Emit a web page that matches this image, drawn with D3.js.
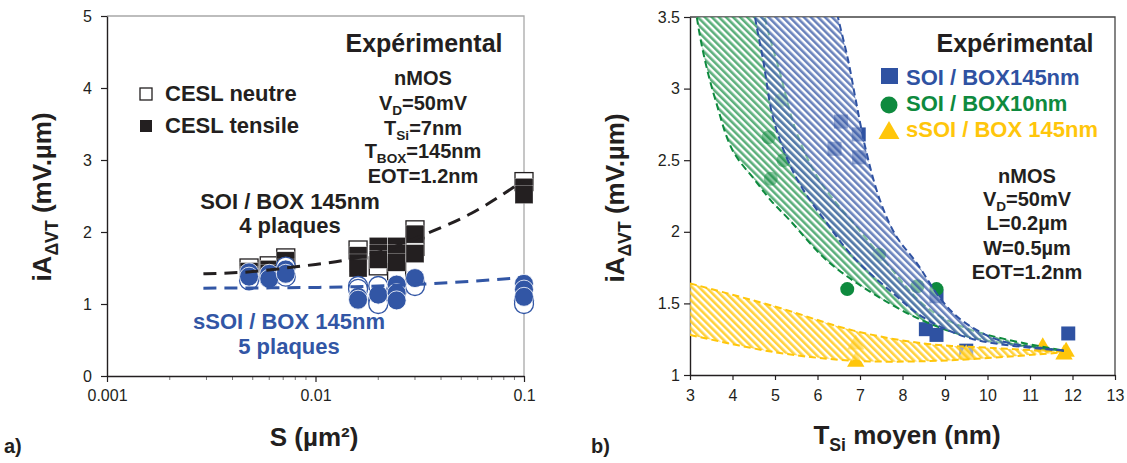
<!DOCTYPE html>
<html><head><meta charset="utf-8">
<script src="https://cdn.jsdelivr.net/npm/d3@7"></script>
<style>
body{margin:0;background:#fff;}
svg{display:block;font-family:"Liberation Sans",Arial,Helvetica,sans-serif;}
</style>
</head><body><svg id="c" width="1127" height="463"></svg>
<script>
// ================= Panel a data =================
const aXTicks = [0.001, 0.01, 0.1];
const aXTickLabels = ["0.001", "0.01", "0.1"];
const aYTicks = [0, 1, 2, 3, 4, 5];
// SOI / BOX 145nm squares [S (µm²), iA (mV.µm)]
const aSoiNeutre = [[0.0048,1.50],[0.006,1.53],[0.0072,1.64],[0.016,1.75],[0.02,1.53],[0.0245,1.46],[0.03,2.03],[0.03,1.80],[0.1,2.70]];
const aSoiTensile = [[0.0048,1.45],[0.0048,1.40],[0.006,1.48],[0.006,1.42],[0.0072,1.60],[0.0072,1.50],
  [0.016,1.67],[0.016,1.57],[0.016,1.50],[0.02,1.80],[0.02,1.70],[0.02,1.62],[0.0245,1.80],[0.0245,1.70],[0.0245,1.58],
  [0.03,1.97],[0.03,1.70],[0.1,2.62],[0.1,2.52]];
// sSOI / BOX 145nm circles
const aSsoiNeutre = [[0.0048,1.33],[0.006,1.36],[0.0072,1.52],[0.0072,1.38],[0.016,1.25],[0.016,1.21],[0.02,1.25],[0.02,1.05],[0.02,1.00],
  [0.0245,1.22],[0.0245,1.18],[0.03,1.29],[0.03,1.25],[0.1,1.05],[0.1,1.00]];
const aSsoiTensile = [[0.0048,1.44],[0.0048,1.38],[0.006,1.42],[0.006,1.35],[0.0072,1.48],[0.0072,1.42],[0.016,1.10],[0.016,1.06],
  [0.02,1.13],[0.0245,1.27],[0.0245,1.15],[0.0245,1.05],[0.03,1.36],[0.1,1.28],[0.1,1.20],[0.1,1.10]];
// dashed trend lines
const aFitSoiS = [0.0029,0.005,0.0072,0.01,0.0146,0.02,0.035,0.056,0.1];
const aFitSoiV = [1.42,1.45,1.50,1.55,1.62,1.72,1.99,2.26,2.72];
const aFitSsoiS = [0.0029,0.01,0.0154,0.035,0.1];
const aFitSsoiV = [1.22,1.23,1.24,1.28,1.37];

// ================= Panel b data =================
const bXTicks = [3,4,5,6,7,8,9,10,11,12,13];
const bYTicks = [1,1.5,2,2.5,3,3.5];
const bSoi145 = [[6.55,2.77],[6.4,2.58],[6.97,2.68],[6.98,2.52],[8.8,1.55],[8.55,1.32],[8.8,1.28],[9.5,1.17],[11.9,1.29]];
const bSoi10 = [[5.15,2.92],[4.85,2.66],[5.2,2.5],[4.9,2.37],[7.45,1.84],[8.35,1.62],[6.7,1.6],[8.8,1.6]];
const bSsoi145 = [[6.9,1.22],[9.5,1.15],[6.9,1.1],[11.3,1.2],[11.8,1.15],[11.85,1.17]];
// hatched bands (boundary curves)
const bandBlueUpT = [6.3,6.48,6.72,6.9,7.14,7.47,7.85,8.34,8.9,9.4,10.3,11.8];
const bandBlueUpV = [3.75,3.5,3.2,2.92,2.57,2.22,1.97,1.78,1.53,1.38,1.24,1.17];
const bandBlueLoT = [4.4,4.53,4.72,4.95,5.3,5.65,6.22,6.85,7.78,8.5,9.66,11.8];
const bandBlueLoV = [3.8,3.5,3.2,2.8,2.5,2.3,2.06,1.82,1.57,1.4,1.25,1.17];
const bandGreenUpT = [4.65,4.76,5.1,5.5,6.0,6.5,6.85,7.63,8.58,9.66,11.8];
const bandGreenUpV = [3.8,3.5,3.13,2.7,2.38,2.18,2.06,1.78,1.47,1.31,1.17];
const bandGreenLoT = [3.05,3.16,3.35,3.6,4.0,4.53,4.9,5.35,6.22,7.3,8.48,9.66,11.8];
const bandGreenLoV = [3.8,3.5,3.2,2.92,2.57,2.36,2.22,2.08,1.8,1.57,1.38,1.26,1.17];
const bandYellowUpT = [3,4.98,6.85,8.5,10.06,11.87];
const bandYellowUpV = [1.64,1.48,1.31,1.22,1.19,1.16];
const bandYellowLoT = [3,4.98,6.85,8.9,11.87];
const bandYellowLoV = [1.28,1.16,1.10,1.10,1.16];

// ================= drawing =================
const ink = "#231F20";
const cBlue = "#2F52A2", cGreen = "#0E8A3E", cYellow = "#FFC60B", cCircle = "#3256A5";
const svg = d3.select("#c");
const defs = svg.append("defs");
const zip = (a,b) => a.map((v,i)=>[v,b[i]]);

function rich(g, x, y, parts, size, anchor, color){
  const t = g.append("text").attr("x",x).attr("y",y).attr("font-size",size).attr("font-weight","bold")
    .attr("text-anchor",anchor).attr("fill",color||ink);
  let shift = 0;
  parts.forEach(p=>{
    const s = t.append("tspan").text(p[0]);
    if(p[1]==="sub"){ s.attr("font-size",size*0.68).attr("dy",size*0.25 - shift); shift = size*0.25; }
    else if(shift){ s.attr("dy",-shift); shift=0; }
  });
  return t;
}
function styleAxis(g, size){
  g.select(".domain").attr("stroke",ink).attr("stroke-width",1.4);
  g.selectAll(".tick line").attr("stroke",ink).attr("stroke-width",1.2);
  g.selectAll(".tick text").attr("fill",ink).attr("font-size",size)
    .attr("font-family",'"Liberation Sans",Arial,sans-serif');
}

// ---------- Panel a ----------
const xA = d3.scaleLog().domain([0.001,0.1]).range([107,524]);
const yA = d3.scaleLinear().domain([0,5]).range([376,16]);
const gA = svg.append("g");
gA.append("path").attr("d",`M${xA(0.001)},${yA(5)}H${xA(0.1)}V${yA(0)}`)
  .attr("fill","none").attr("stroke","#a8a8a8").attr("stroke-width",1.3);
// minor log ticks
const minor = [];
[0.001,0.01].forEach(d=>{for(let k=2;k<=9;k++) minor.push(d*k);});
gA.selectAll(".mt").data(minor).join("line").attr("x1",d=>xA(d)).attr("x2",d=>xA(d))
  .attr("y1",yA(0)).attr("y2",yA(0)+4).attr("stroke","#777").attr("stroke-width",1);
const axAy = gA.append("g").attr("transform",`translate(${xA(0.001)},0)`)
  .call(d3.axisLeft(yA).tickValues(aYTicks).tickSize(6).tickSizeOuter(0).tickPadding(9).tickFormat(d3.format("d")));
styleAxis(axAy,16);
const axAx = gA.append("g").attr("transform",`translate(0,${yA(0)})`)
  .call(d3.axisBottom(xA).tickValues(aXTicks).tickSize(6).tickSizeOuter(0).tickPadding(8).tickFormat((d,i)=>aXTickLabels[i]));
styleAxis(axAx,16);

const sq = 18;
gA.selectAll(".sqo").data(aSoiNeutre).join("rect")
  .attr("x",d=>xA(d[0])-sq/2).attr("y",d=>yA(d[1])-sq/2).attr("width",sq).attr("height",sq)
  .attr("fill","#fff").attr("stroke",ink).attr("stroke-width",1.3);
gA.selectAll(".sqf").data(aSoiTensile).join("rect")
  .attr("x",d=>xA(d[0])-sq/2).attr("y",d=>yA(d[1])-sq/2).attr("width",sq).attr("height",sq)
  .attr("fill",ink).attr("stroke","#fff").attr("stroke-width",0.5).attr("stroke-opacity",0.6);
gA.selectAll(".cio").data(aSsoiNeutre).join("circle")
  .attr("cx",d=>xA(d[0])).attr("cy",d=>yA(d[1])).attr("r",9.5)
  .attr("fill","#fff").attr("stroke",cCircle).attr("stroke-width",1.3);
gA.selectAll(".cif").data(aSsoiTensile).join("circle")
  .attr("cx",d=>xA(d[0])).attr("cy",d=>yA(d[1])).attr("r",9.5)
  .attr("fill",cCircle).attr("stroke","#fff").attr("stroke-width",0.8);

const lineA = d3.line().x(d=>xA(d[0])).y(d=>yA(d[1])).curve(d3.curveMonotoneX);
gA.append("path").attr("d",lineA(zip(aFitSsoiS,aFitSsoiV))).attr("fill","none")
  .attr("stroke",cCircle).attr("stroke-width",3).attr("stroke-dasharray","13,8");
gA.append("path").attr("d",lineA(zip(aFitSoiS,aFitSoiV))).attr("fill","none")
  .attr("stroke",ink).attr("stroke-width",3).attr("stroke-dasharray","13,8");

// texts panel a
rich(gA,424,52,[["Expérimental"]],25,"middle");
gA.append("rect").attr("x",140).attr("y",88).attr("width",12).attr("height",12).attr("fill","#fff").attr("stroke",ink).attr("stroke-width",1.3);
gA.append("rect").attr("x",140).attr("y",120).attr("width",12).attr("height",12).attr("fill",ink);
rich(gA,165,101,[["CESL neutre"]],22,"start");
rich(gA,165,133,[["CESL tensile"]],22,"start");
rich(gA,423,85,[["nMOS"]],20,"middle");
rich(gA,423,110,[["V"],["D","sub"],["=50mV"]],20,"middle");
rich(gA,423,135,[["T"],["Si","sub"],["=7nm"]],20,"middle");
rich(gA,423,158,[["T"],["BOX","sub"],["=145nm"]],20,"middle");
rich(gA,423,183,[["EOT=1.2nm"]],20,"middle");
rich(gA,290,209,[["SOI / BOX 145nm"]],22,"middle");
rich(gA,290,233,[["4 plaques"]],22,"middle");
rich(gA,289,329,[["sSOI / BOX 145nm"]],22,"middle",cCircle);
rich(gA,289,354,[["5 plaques"]],22,"middle",cCircle);
rich(gA,4,453,[["a)"]],20,"start");
rich(gA,314,446,[["S (µm²)"]],26,"middle");
rich(gA.append("g").attr("transform","translate(51,197) rotate(-90)"),0,0,[["iA"],["ΔVT","sub"],[" (mV.µm)"]],26,"middle");

// ---------- Panel b ----------
const xB = d3.scaleLinear().domain([3,13]).range([690,1115]);
const yB = d3.scaleLinear().domain([1,3.5]).range([375,17]);
const gB = svg.append("g");
defs.append("clipPath").attr("id","clipB").append("rect")
  .attr("x",xB(3)).attr("y",yB(3.5)).attr("width",xB(13)-xB(3)).attr("height",yB(1)-yB(3.5));
function hatch(id,color,op){
  const p = defs.append("pattern").attr("id",id).attr("patternUnits","userSpaceOnUse")
    .attr("width",5).attr("height",5).attr("patternTransform","rotate(-45)");
  p.append("rect").attr("width",5).attr("height",5).attr("fill","#fff").attr("fill-opacity",0.5);
  p.append("rect").attr("width",2.6).attr("height",5).attr("fill",color).attr("fill-opacity",op);
}
hatch("hBlue",cBlue,0.72); hatch("hGreen",cGreen,0.68); hatch("hYellow",cYellow,0.8);

gB.append("path").attr("d",`M${xB(3)},${yB(3.5)}H${xB(13)}V${yB(1)}`)
  .attr("fill","none").attr("stroke","#444").attr("stroke-width",1.3);
const axBy = gB.append("g").attr("transform",`translate(${xB(3)},0)`)
  .call(d3.axisLeft(yB).tickValues(bYTicks).tickSize(6).tickSizeOuter(0).tickPadding(4).tickFormat(d3.format("~g")));
styleAxis(axBy,16);
const axBx = gB.append("g").attr("transform",`translate(0,${yB(1)})`)
  .call(d3.axisBottom(xB).tickValues(bXTicks).tickSize(5).tickSizeOuter(0).tickPadding(10).tickFormat(d3.format("d")));
styleAxis(axBx,16);

const plotB = gB.append("g").attr("clip-path","url(#clipB)");
// points (under the hatched bands)
const ms = 14;
const triangle = d3.symbol().type(d3.symbolTriangle).size(130);
plotB.selectAll(".bs").data(bSoi145).join("rect")
  .attr("x",d=>xB(d[0])-ms/2).attr("y",d=>yB(d[1])-ms/2).attr("width",ms).attr("height",ms).attr("fill",cBlue);
plotB.selectAll(".bc").data(bSoi10).join("circle")
  .attr("cx",d=>xB(d[0])).attr("cy",d=>yB(d[1])).attr("r",7).attr("fill",cGreen);
plotB.selectAll(".bt").data(bSsoi145).join("path")
  .attr("transform",d=>`translate(${xB(d[0])},${yB(d[1])+1})`).attr("d",triangle).attr("fill",cYellow);

const curveB = d3.line().x(d=>xB(d[0])).y(d=>yB(d[1])).curve(d3.curveCatmullRom.alpha(0.5));
function band(upT,upV,loT,loV,pat,color){
  const up = zip(upT,upV), lo = zip(loT,loV);
  const d = curveB(up) + curveB(lo.slice().reverse()).replace(/^M/,"L") + "Z";
  plotB.append("path").attr("d",d).attr("fill",`url(#${pat})`).attr("stroke","none");
  [up,lo].forEach(c=>plotB.append("path").attr("d",curveB(c)).attr("fill","none")
    .attr("stroke",color).attr("stroke-width",2).attr("stroke-dasharray","7,4"));
}
band(bandYellowUpT,bandYellowUpV,bandYellowLoT,bandYellowLoV,"hYellow",cYellow);
band(bandGreenUpT,bandGreenUpV,bandGreenLoT,bandGreenLoV,"hGreen",cGreen);
band(bandBlueUpT,bandBlueUpV,bandBlueLoT,bandBlueLoV,"hBlue",cBlue);

// texts panel b
rich(gB,1015,52,[["Expérimental"]],25,"middle");
gB.append("rect").attr("x",881).attr("y",68).attr("width",17).attr("height",16).attr("fill",cBlue);
gB.append("circle").attr("cx",889).attr("cy",105).attr("r",8.5).attr("fill",cGreen);
gB.append("path").attr("transform","translate(889,133)").attr("d",d3.symbol().type(d3.symbolTriangle).size(190)).attr("fill",cYellow);
rich(gB,906,85,[["SOI / BOX145nm"]],22,"start",cBlue);
rich(gB,906,111,[["SOI / BOX10nm"]],22,"start",cGreen);
rich(gB,906,137,[["sSOI / BOX 145nm"]],22,"start",cYellow);
rich(gB,1027,183,[["nMOS"]],20,"middle");
rich(gB,1027,206,[["V"],["D","sub"],["=50mV"]],20,"middle");
rich(gB,1027,230,[["L=0.2µm"]],20,"middle");
rich(gB,1027,255,[["W=0.5µm"]],20,"middle");
rich(gB,1027,279,[["EOT=1.2nm"]],20,"middle");
rich(gB,591,453,[["b)"]],20,"start");
rich(gB,907,444,[["T"],["Si","sub"],[" moyen (nm)"]],26,"middle");
rich(gB.append("g").attr("transform","translate(624,198) rotate(-90)"),0,0,[["iA"],["ΔVT","sub"],[" (mV.µm)"]],26,"middle");
</script>
</body></html>
